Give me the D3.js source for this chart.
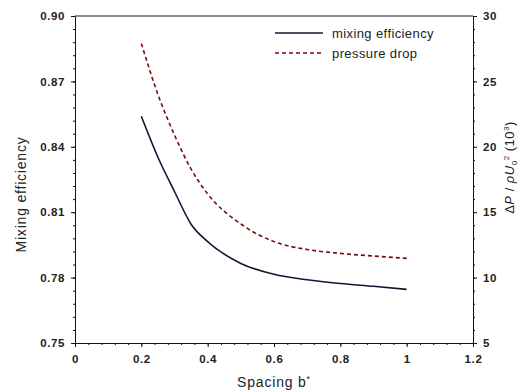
<!DOCTYPE html>
<html>
<head>
<meta charset="utf-8">
<script src="https://cdn.jsdelivr.net/npm/d3@7"></script>
<style>
  body { margin: 0; background: #fff; }
  svg { font-family: "Liberation Sans", Arial, sans-serif; }
  .tick text { font-size: 11.5px; font-weight: bold; fill: #222; letter-spacing: 0.6px; }
  .axis path, .axis line { stroke: #111; }
</style>
</head>
<body>
<div id="chart"></div>
<script>
// spacing b* values
const spacing = [0.2, 0.25, 0.3, 0.35, 0.4, 0.5, 0.6, 0.7, 0.8, 0.9, 1.0];
// mixing efficiency (left axis)
const mixingEff = [0.854, 0.8352, 0.8195, 0.8045, 0.7965, 0.7865, 0.7815, 0.779, 0.7773, 0.776, 0.7746];
// pressure drop (right axis, x10^3)
const pressureDrop = [27.9, 24.0, 20.9, 18.3, 16.4, 14.1, 12.75, 12.15, 11.85, 11.65, 11.47];
const xTicks = [0, 0.2, 0.4, 0.6, 0.8, 1, 1.2];
const yTicks = [0.75, 0.78, 0.81, 0.84, 0.87, 0.90];
const y2Ticks = [5, 10, 15, 20, 25, 30];
const legendLabels = ['mixing efficiency', 'pressure drop'];

const width = 523, height = 392;
const margin = {left: 75, right: 50, top: 16, bottom: 49};
const w = width - margin.left - margin.right;
const h = height - margin.top - margin.bottom;

const svg = d3.select('#chart').append('svg')
    .attr('width', width).attr('height', height);
const g = svg.append('g')
    .attr('transform', `translate(${margin.left}, ${margin.top})`);

const xScale = d3.scaleLinear().domain([0, 1.2]).range([0, w]);
const yScale = d3.scaleLinear().domain([0.75, 0.90]).range([h, 0]);
const y2Scale = d3.scaleLinear().domain([5, 30]).range([h, 0]);

// minor ticks first
const minor = (step, lo, hi) => d3.range(lo, hi + step / 2, step);
g.append('g').attr('class', 'axis')
    .attr('transform', `translate(0, ${h})`)
    .call(d3.axisBottom(xScale).tickValues(minor(0.04, 0, 1.2)).tickSize(2).tickFormat(''))
    .call(a => a.select('.domain').remove());
g.append('g').attr('class', 'axis')
    .call(d3.axisLeft(yScale).tickValues(minor(0.006, 0.75, 0.90)).tickSize(2).tickFormat(''))
    .call(a => a.select('.domain').remove());
g.append('g').attr('class', 'axis')
    .attr('transform', `translate(${w}, 0)`)
    .call(d3.axisRight(y2Scale).tickValues(minor(1, 5, 30)).tickSize(2).tickFormat(''))
    .call(a => a.select('.domain').remove());

// top frame line
g.append('line')
    .attr('x1', 0).attr('x2', w).attr('y1', 0).attr('y2', 0)
    .attr('stroke', '#666').attr('stroke-width', 1.5);

// major axes
g.append('g').attr('class', 'axis')
    .attr('transform', `translate(0, ${h})`)
    .call(d3.axisBottom(xScale).tickValues(xTicks).tickSize(4).tickSizeOuter(0).tickPadding(8)
        .tickFormat(d => d3.format('~g')(d)));
g.append('g').attr('class', 'axis')
    .call(d3.axisLeft(yScale).tickValues(yTicks).tickSize(4).tickSizeOuter(0).tickPadding(6)
        .tickFormat(d3.format('.2f')));
g.append('g').attr('class', 'axis')
    .attr('transform', `translate(${w}, 0)`)
    .call(d3.axisRight(y2Scale).tickValues(y2Ticks).tickSize(4).tickSizeOuter(0).tickPadding(6));

// lines
const data = spacing.map((s, i) => ({x: s, m: mixingEff[i], p: pressureDrop[i]}));
g.append('path').datum(data)
    .attr('fill', 'none').attr('stroke', '#7a0a0a').attr('stroke-width', 1.6)
    .attr('stroke-dasharray', '4,3')
    .attr('d', d3.line().curve(d3.curveMonotoneX).x(d => xScale(d.x)).y(d => y2Scale(d.p)));
g.append('path').datum(data)
    .attr('fill', 'none').attr('stroke', '#141433').attr('stroke-width', 1.6)
    .attr('d', d3.line().curve(d3.curveMonotoneX).x(d => xScale(d.x)).y(d => yScale(d.m)));

// legend
const legend = g.append('g').attr('transform', `translate(200, 17)`);
const legStyles = [
    {stroke: '#141433', dash: null},
    {stroke: '#7a0a0a', dash: '4,3'}
];
legendLabels.forEach((lab, i) => {
    const row = legend.append('g').attr('transform', `translate(0, ${i * 20})`);
    row.append('line').attr('x1', 0).attr('x2', 48).attr('y1', 0).attr('y2', 0)
        .attr('stroke', legStyles[i].stroke).attr('stroke-width', 1.6)
        .attr('stroke-dasharray', legStyles[i].dash);
    row.append('text').attr('x', 57).attr('y', 0).attr('dy', '0.35em')
        .attr('font-size', 13).attr('letter-spacing', 0.4).attr('fill', '#222').text(lab);
});

// axis titles
svg.append('text')
    .attr('x', margin.left + xScale(0.6)).attr('y', 387)
    .attr('text-anchor', 'middle').attr('font-size', 14).attr('letter-spacing', 0.8).attr('fill', '#222')
    .html('Spacing b<tspan dy="-5" font-size="9">*</tspan>');
svg.append('text')
    .attr('transform', `translate(26, ${margin.top + h / 2 + 15}) rotate(-90)`)
    .attr('text-anchor', 'middle').attr('font-size', 14).attr('letter-spacing', 0.8).attr('fill', '#222')
    .text('Mixing efficiency');
const rt = svg.append('text')
    .attr('transform', `translate(514, ${margin.top + h / 2 - 12}) rotate(-90)`)
    .attr('text-anchor', 'middle').attr('font-size', 13).attr('letter-spacing', 0.5).attr('fill', '#222');
rt.append('tspan').text('Δ');
rt.append('tspan').attr('font-style', 'italic').text('P');
rt.append('tspan').text(' / ');
rt.append('tspan').attr('font-style', 'italic').text('ρU');
rt.append('tspan').attr('font-size', 8).attr('dy', 3).text('0');
rt.append('tspan').attr('font-size', 8).attr('dy', -8).text('2');
rt.append('tspan').attr('dy', 5).text(' (10');
rt.append('tspan').attr('font-size', 8).attr('dy', -5).text('3');
rt.append('tspan').attr('dy', 5).text(')');
</script>
</body>
</html>
